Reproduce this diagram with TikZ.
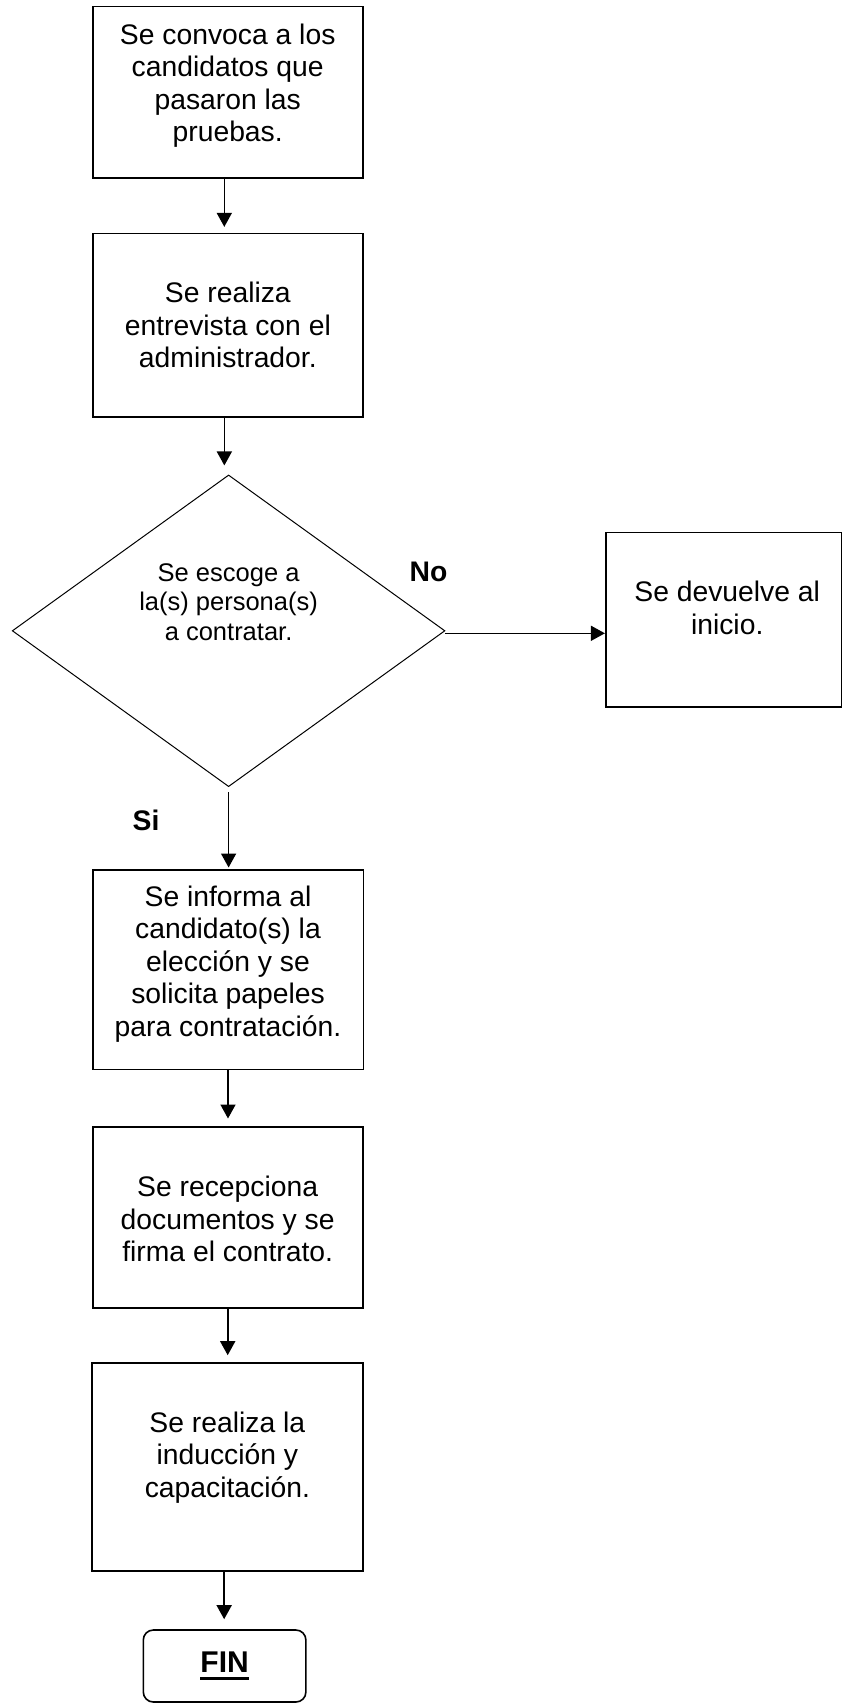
\documentclass[tikz,border=0pt]{standalone}
\usepackage{fontspec}
\setmainfont{Liberation Sans}
\usetikzlibrary{arrows.meta,shapes.geometric}

% thick underline for the end marker
\newcommand\thickul[1]{\setbox0\hbox{#1}\rlap{\rule[-7pt]{\wd0}{3pt}}\box0}

\begin{document}
\begin{tikzpicture}[x=1pt,y=-1pt,
  stepbox/.style={draw,line width=1.6pt,inner sep=0pt,rectangle},
  decision/.style={draw,line width=1pt,inner sep=0pt,diamond},
  endbox/.style={draw,line width=1.6pt,inner sep=0pt,rectangle,rounded corners=10pt},
  boxtext/.style={align=center,inner sep=0pt,font=\fontsize{28.3}{32.5}\selectfont},
  choice/.style={inner sep=0pt,font=\fontsize{28.3}{33}\selectfont\bfseries},
  arr/.style={line width=1.6pt,-{Triangle[length=14pt,width=15pt]}}]

\useasboundingbox (0,0) rectangle (842,1704);

% process boxes
\node[stepbox,minimum width=270pt,minimum height=171.3pt] (b1) at (227.7,92.35) {};
\node[stepbox,minimum width=270.3pt,minimum height=183.3pt] (b2) at (227.85,325.35) {};
\node[decision,minimum width=432.7pt,minimum height=311.7pt] (d) at (228.6,630.8) {};
\node[stepbox,minimum width=236pt,minimum height=174.4pt] (dev) at (723.7,619.5) {};
\node[stepbox,minimum width=270.6pt,minimum height=199.3pt] (b3) at (228,969.65) {};
\node[stepbox,minimum width=270pt,minimum height=181pt] (b4) at (227.7,1217.2) {};
\node[stepbox,minimum width=270.7pt,minimum height=208pt] (b5) at (227.35,1466.7) {};
\node[endbox,minimum width=162.6pt,minimum height=72pt,
      font=\fontsize{30}{34}\selectfont\bfseries] (fin) at (224.6,1666) {\thickul{FIN}};

% texts inside the boxes
\node[boxtext] (t1) at ([yshift=6.6pt]b1.center)
  {Se convoca a los\\candidatos que\\pasaron las\\pruebas.};
\node[boxtext] (t2) at (b2.center)
  {Se realiza\\entrevista con el\\administrador.};
\node[align=center,inner sep=0pt,font=\fontsize{25.5}{29.5}\selectfont] (td)
  at ([yshift=28.8pt]d.center) {Se escoge a\\la(s) persona(s)\\a contratar.};
\node[boxtext,font=\fontsize{28.3}{33.3}\selectfont] (tdev)
  at ([xshift=3.5pt,yshift=11.5pt]dev.center) {Se devuelve al\\inicio.};
\node[boxtext] (t3) at ([yshift=5.6pt]b3.center)
  {Se informa al\\candidato(s) la\\elección y se\\solicita papeles\\para contratación.};
\node[boxtext] (t4) at ([yshift=-1.8pt]b4.center)
  {Se recepciona\\documentos y se\\firma el contrato.};
\node[boxtext] (t5) at ([yshift=9.1pt]b5.center)
  {Se realiza la\\inducción y\\capacitación.};

% branch labels
\node[choice] (no) at (428.5,572) {No};
\node[choice] (si) at (146,820.8) {Si};

% connectors
\draw[arr,shorten >=6pt] ([xshift=-3.4pt]b1.south) -- ([xshift=-3.4pt]b1.south |- b2.north);
\draw[arr,shorten >=9pt] ([xshift=-3.5pt]b2.south) -- ([xshift=-3.5pt]b2.south |- d.north);
\draw[arr] ([yshift=-2.5pt]d.east) -- ([yshift=-2.5pt]d.east -| dev.west);
\draw[arr,shorten <=5pt,shorten >=1.7pt] (d.south) -- (d.south |- b3.north);
\draw[arr,shorten >=7.4pt] (b3.south) -- (b3.south |- b4.north);
\draw[arr,shorten >=6.7pt] (b4.south) -- (b4.south |- b5.north);
\draw[arr,shorten >=10pt] ([xshift=-3.2pt]b5.south) -- ([xshift=-3.2pt]b5.south |- fin.north);

\end{tikzpicture}
\end{document}
